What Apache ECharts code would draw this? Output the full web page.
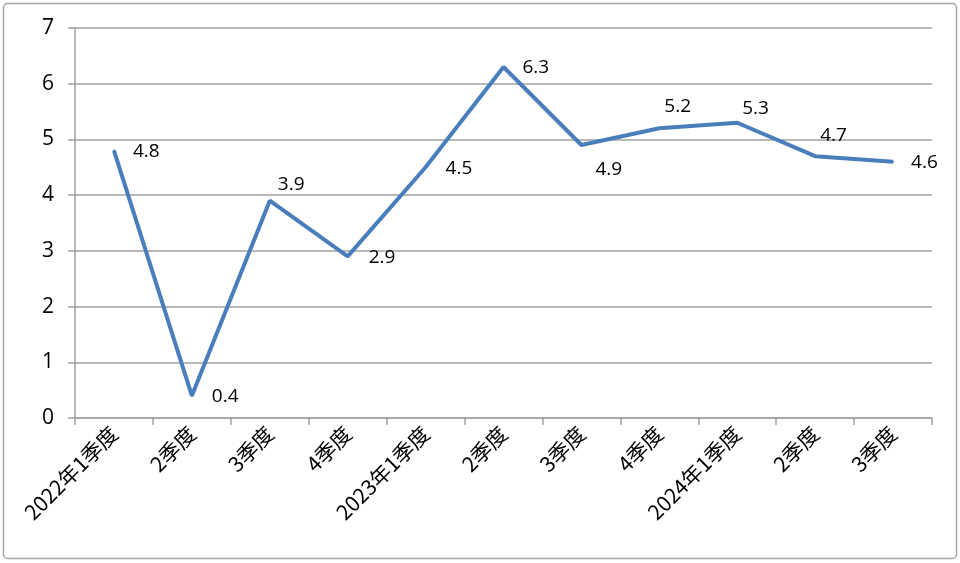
<!DOCTYPE html>
<html><head><meta charset="utf-8">
<script src="https://cdn.jsdelivr.net/npm/echarts@6/dist/echarts.min.js"></script>
<style>html,body{margin:0;padding:0;background:#fff}#c{width:960px;height:563px}</style>
</head><body><div id="c"></div>
<script>
const categories = ['2022年1季度','2季度','3季度','4季度','2023年1季度','2季度','3季度','4季度','2024年1季度','2季度','3季度'];
const values = [4.8, 0.4, 3.9, 2.9, 4.5, 6.3, 4.9, 5.2, 5.3, 4.7, 4.6];
const yTicks = [0, 1, 2, 3, 4, 5, 6, 7];
// label placement style per point (offset from the point, px)
const labelPlacement = [[19,1],[20,1],[8,-16],[21,1],[20,1],[19,1],[14,25],[5,-22],[5,-14],[5,-21],[18,1]];

const chart = echarts.init(document.getElementById('c'));
chart.setOption({
  animation: false,
  graphic: [{type:'rect', shape:{x:3.5,y:3.5,width:953,height:555,r:4}, style:{fill:'none',stroke:'#a6a6a6',lineWidth:1.5}}],
  grid: {left: 75, right: 28, top: 28, bottom: 145},
  xAxis: {
    type: 'category', data: categories, boundaryGap: true,
    axisLine: {lineStyle: {color: '#a0a0a0', width: 1.5}},
    axisTick: {show: true, length: 7, lineStyle: {color: '#a0a0a0', width: 1.5}},
    axisLabel: {rotate: 45, margin: 12, fontSize: 21, color: '#000', fontFamily: '"Noto Sans CJK SC", "Open Sans", sans-serif', interval: 0}
  },
  yAxis: {
    type: 'value', min: yTicks[0], max: yTicks[yTicks.length-1], interval: 1,
    axisLine: {show: true, lineStyle: {color: '#a0a0a0', width: 1.5}},
    axisTick: {show: true, length: 7, lineStyle: {color: '#a0a0a0', width: 1.5}},
    splitLine: {lineStyle: {color: '#a0a0a0', width: 1.5}},
    axisLabel: {fontSize: 21, color: '#000', margin: 21, fontFamily: '"Open Sans", sans-serif'}
  },
  series: [{
    type: 'line', showSymbol: true, symbol: 'circle', symbolSize: 2,
    data: values.map((v, i) => ({value: v, label: {show: true, position: [labelPlacement[i][0] + 1, labelPlacement[i][1] + 1]}})),
    lineStyle: {color: '#4a7ebb', width: 4},
    itemStyle: {color: '#4a7ebb'},
    labelLayout: {hideOverlap: false},
    label: {show: true, fontSize: 19, color: '#000', fontFamily: '"Open Sans", sans-serif', align: 'left', verticalAlign: 'middle'}
  }]
});
</script></body></html>
